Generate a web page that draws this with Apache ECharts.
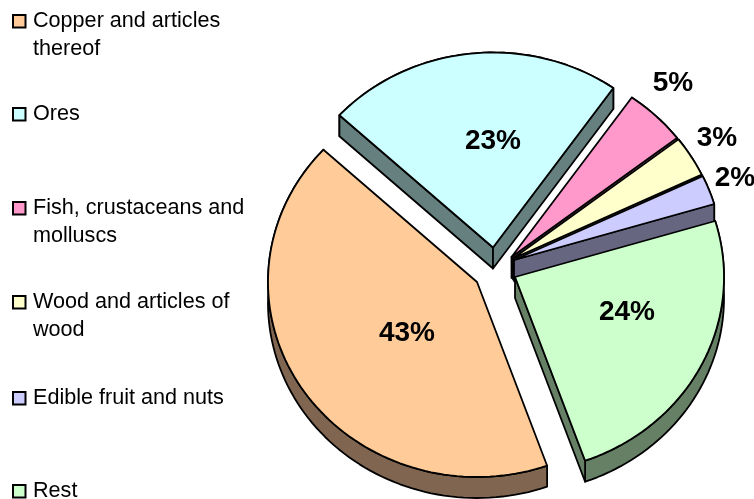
<!DOCTYPE html>
<html>
<head>
<meta charset="utf-8">
<style>
    html, body { margin: 0; padding: 0; background: #fff; }
    #chart { width: 754px; height: 499px; }
</style>
<script src="https://cdn.jsdelivr.net/npm/echarts@6/dist/echarts.min.js"></script>
</head>
<body>
<div id="chart"></div>
<script>
// data
const categories = ['Copper and articles\nthereof', 'Ores', 'Fish, crustaceans and\nmolluscs', 'Wood and articles of\nwood', 'Edible fruit and nuts', 'Rest'];
const values = [42.5, 23.0, 4.8, 3.4, 2.45, 24.3];

// look of the slices
const topColors = ['#FFCC99', '#CCFFFF', '#FF99CC', '#FFFFCC', '#CCCCFF', '#CCFFCC'];
const wallColors = ['#806650', '#668080', '#804C66', '#808066', '#666680', '#668066'];
const explode = [[-18, 17], [-2, -17.5], [16.5, -8], [18, -6.5], [19, -5], [20, 12]]; // from pie centre
const labelPos = [[407, 333], [493, 141], [673, 83], [717, 138], [735, 178], [627, 312]];
const legendY = [21, 114, 208, 302, 398, 491]; // middle of first line
const tilt = 0.933;
const depth = 21;

const total = values.reduce((a, b) => a + b, 0);
let acc = 0;
const sliceData = values.map((v) => {
    const row = [acc, acc + v, v];
    acc += v;
    return row;
});

function renderSlice(params, api) {
    const i = params.dataIndex;
    const from = api.value(0);
    const to = api.value(1);
    const c = api.coord([0, from]);
    // polar point -> tilted and exploded screen point
    const place = (r, a, down) => {
        const p = api.coord([r, a]);
        return [p[0] + explode[i][0], c[1] + (p[1] - c[1]) * tilt + explode[i][1] + down];
    };
    const arcTop = [];
    const arcBottom = [];
    const steps = Math.max(6, Math.ceil((to - from) * 2));
    for (let s = 0; s <= steps; s++) {
        const a = from + (to - from) * s / steps;
        arcTop.push(place(1, a, 0));
        arcBottom.push(place(1, a, depth));
    }
    const apex = place(0, from, 0);
    const apexLow = place(0, from, depth);
    const mid = place(1, (from + to) / 2, 0);
    const wallStyle = { fill: wallColors[i], stroke: '#000', lineWidth: 1.8, lineJoin: 'round' };
    const poly = (points, style) => ({ type: 'polygon', shape: { points: points }, style: style });

    // a cut face only shows when it looks down
    const faces = [];
    [arcTop[0], arcTop[steps]].forEach((p) => {
        const dx = p[0] - apex[0];
        const dy = p[1] - apex[1];
        let nx = -dy;
        let ny = dx;
        if (nx * (mid[0] - apex[0]) + ny * (mid[1] - apex[1]) > 0) {
            nx = -nx;
            ny = -ny;
        }
        if (ny > 0) {
            faces.push(poly([apex, p, [p[0], p[1] + depth], apexLow], wallStyle));
        }
    });

    return {
        type: 'group',
        children: [
            poly(arcTop.concat(arcBottom.slice().reverse()), wallStyle),
            ...faces,
            poly([apex].concat(arcTop), { fill: topColors[i], stroke: '#000', lineWidth: 1.8, lineJoin: 'round' }),
        ],
    };
}

function renderLabel(params, api) {
    const i = params.dataIndex;
    return {
        type: 'text',
        style: {
            x: labelPos[i][0],
            y: labelPos[i][1],
            text: Math.round(api.value(2)) + '%',
            font: 'bold 28px "Liberation Sans", Arial, sans-serif',
            fill: '#000',
            align: 'center',
            verticalAlign: 'middle',
        },
    };
}

const legendGraphics = [];
categories.forEach((name, i) => {
    legendGraphics.push({
        type: 'rect',
        shape: { x: 13, y: legendY[i] - 6, width: 12.5, height: 12.5 },
        style: { fill: topColors[i], stroke: '#000', lineWidth: 2 },
    });
    legendGraphics.push({
        type: 'text',
        style: {
            x: 33,
            y: legendY[i] - 14,
            text: name,
            font: '21.6px "Liberation Sans", Arial, sans-serif',
            lineHeight: 28,
            fill: '#000',
            verticalAlign: 'top',
        },
    });
});

const chart = echarts.init(document.getElementById('chart'), null, { renderer: 'canvas' });
chart.setOption({
    animation: false,
    backgroundColor: '#fff',
    polar: { center: [495, 265], radius: 209 },
    angleAxis: { show: false, min: 0, max: total, startAngle: 289.6 },
    radiusAxis: { show: false, min: 0, max: 1 },
    graphic: legendGraphics,
    series: [
        { type: 'custom', coordinateSystem: 'polar', renderItem: renderSlice, data: sliceData, silent: true, z: 2 },
        { type: 'custom', coordinateSystem: 'polar', renderItem: renderLabel, data: sliceData, silent: true, z: 3 },
    ],
});
</script>
</body>
</html>
